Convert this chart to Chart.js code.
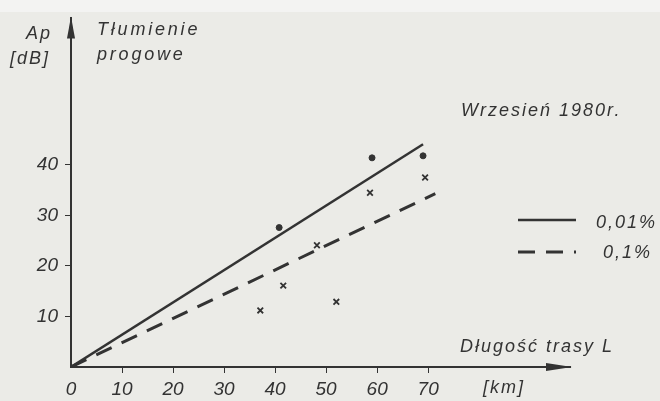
<!DOCTYPE html>
<html>
<head>
<meta charset="utf-8">
<script src="https://cdn.jsdelivr.net/npm/chart.js@4/dist/chart.umd.min.js"></script>
<style>
  html, body { margin: 0; padding: 0; background: #ebebe7; }
  canvas { display: block; }
</style>
</head>
<body>
<canvas id="chart" width="660" height="401"></canvas>
<script>
// trend lines (km -> dB)
const solidX = [0, 69];
const solidY = [0, 44.1];
const dashedX = [0, 71.4];
const dashedY = [0, 34.3];
// measured points, 0,01 %
const dotsX = [40.8, 59, 69];
const dotsY = [27.6, 41.4, 41.8];
// measured points, 0,1 %
const crossX = [37.1, 41.6, 48.2, 52, 58.6, 69.4];
const crossY = [11.2, 16.1, 24.1, 12.9, 34.5, 37.5];
// tick labels
const xTicks = [0, 10, 20, 30, 40, 50, 60, 70];
const yTicks = [10, 20, 30, 40];

const ink = '#333333';
const toPoints = (xs, ys) => xs.map((x, i) => ({x: x, y: ys[i]}));
const tickFont = {family: '"Liberation Sans"', size: 19, style: 'italic'};

const paper = {
    id: 'paper',
    beforeDraw(chart) {
        const ctx = chart.ctx;
        ctx.save();
        ctx.fillStyle = '#ebebe7';
        ctx.fillRect(0, 0, chart.width, chart.height);
        ctx.fillStyle = '#f3f3f2';
        ctx.fillRect(0, 0, chart.width, 12);
        ctx.restore();
    }
};

const extras = {
    id: 'extras',
    afterDraw(chart) {
        const ctx = chart.ctx;
        const a = chart.chartArea;
        ctx.save();
        ctx.fillStyle = ink;
        // arrow heads
        ctx.beginPath();
        ctx.moveTo(a.left, a.top - 2);
        ctx.lineTo(a.left - 4, a.top + 20);
        ctx.lineTo(a.left + 4, a.top + 20);
        ctx.closePath();
        ctx.fill();
        ctx.beginPath();
        ctx.moveTo(a.right + 2, a.bottom);
        ctx.lineTo(a.right - 24, a.bottom - 4);
        ctx.lineTo(a.right - 24, a.bottom + 4);
        ctx.closePath();
        ctx.fill();

        // texts
        ctx.font = 'italic 18px "Liberation Sans"';
        ctx.letterSpacing = '2px';
        ctx.textAlign = 'left';
        ctx.textBaseline = 'alphabetic';
        ctx.fillText('Ap', 26, 39);
        ctx.fillText('[dB]', 10, 64);
        ctx.letterSpacing = '2.8px';
        ctx.fillText('Tłumienie', 97, 35);
        ctx.fillText('progowe', 97, 60);
        ctx.letterSpacing = '2px';
        ctx.fillText('Wrzesień 1980r.', 461, 116);
        ctx.fillText('Długość trasy L', 460, 352);
        ctx.fillText('[km]', 483, 393);

        // legend for the two lines
        const rows = [[0, 220, 228], [1, 252, 258]];
        rows.forEach(([i, y, ty]) => {
            const ds = chart.data.datasets[i];
            ctx.beginPath();
            ctx.strokeStyle = ds.borderColor;
            ctx.lineWidth = ds.borderWidth;
            ctx.setLineDash(ds.borderDash || []);
            ctx.moveTo(518, y);
            ctx.lineTo(576, y);
            ctx.stroke();
            ctx.setLineDash([]);
            ctx.fillText(ds.label, i === 0 ? 596 : 603, ty);
        });
        ctx.restore();
    }
};

new Chart(document.getElementById('chart'), {
    type: 'scatter',
    data: {
        datasets: [
            {
                label: '0,01%',
                type: 'line',
                data: toPoints(solidX, solidY),
                borderColor: ink,
                borderWidth: 2.5,
                pointRadius: 0,
                fill: false
            },
            {
                label: '0,1%',
                type: 'line',
                data: toPoints(dashedX, dashedY),
                borderColor: ink,
                borderWidth: 3,
                borderDash: [17, 11],
                pointRadius: 0,
                fill: false
            },
            {
                label: 'pomiar 0,01%',
                data: toPoints(dotsX, dotsY),
                pointStyle: 'circle',
                pointRadius: 3,
                backgroundColor: ink,
                borderColor: ink
            },
            {
                label: 'pomiar 0,1%',
                data: toPoints(crossX, crossY),
                pointStyle: 'crossRot',
                pointRadius: 4,
                borderWidth: 1.8,
                borderColor: ink
            }
        ]
    },
    options: {
        responsive: false,
        animation: false,
        devicePixelRatio: 1,
        layout: {padding: {top: 15, right: 90, left: 0, bottom: 0}},
        plugins: {legend: {display: false}, tooltip: {enabled: false}},
        scales: {
            x: {
                type: 'linear',
                min: 0,
                max: 97.8,
                afterFit: s => { s.height = 34; },
                border: {color: ink, width: 2},
                grid: {
                    drawOnChartArea: false,
                    tickLength: 6,
                    tickColor: c => (c.tick && c.tick.value > 0 && c.tick.value <= 70) ? ink : 'transparent'
                },
                ticks: {
                    stepSize: 10,
                    color: ink,
                    font: tickFont,
                    padding: 5,
                    maxRotation: 0,
                    autoSkip: false,
                    callback: v => xTicks.includes(v) ? String(v) : ''
                }
            },
            y: {
                type: 'linear',
                min: 0,
                max: 69,
                afterFit: s => { s.width = 71; },
                border: {color: ink, width: 2},
                grid: {
                    drawOnChartArea: false,
                    tickLength: 6,
                    tickColor: c => (c.tick && yTicks.includes(c.tick.value)) ? ink : 'transparent'
                },
                ticks: {
                    stepSize: 10,
                    color: ink,
                    font: tickFont,
                    padding: 7,
                    autoSkip: false,
                    callback: v => yTicks.includes(v) ? String(v) : ''
                }
            }
        }
    },
    plugins: [paper, extras]
});
</script>
</body>
</html>
